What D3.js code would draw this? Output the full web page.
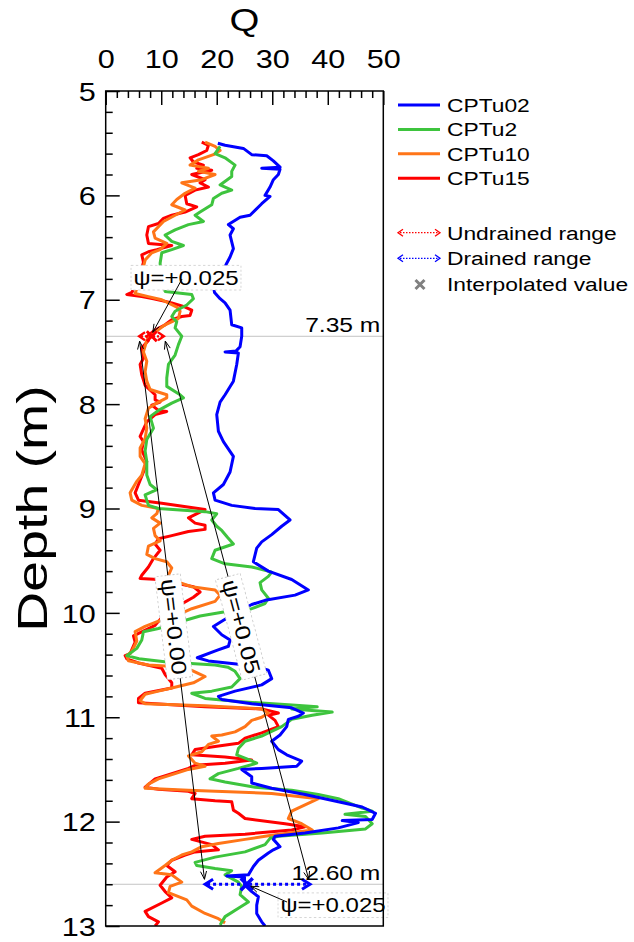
<!DOCTYPE html>
<html>
<head>
<meta charset="utf-8">
<script src="https://cdn.jsdelivr.net/npm/d3@7"></script>
<style>
  html, body { margin: 0; padding: 0; background: #fff; }
  svg { display: block; font-family: "Liberation Sans", Arial, sans-serif; }
</style>
</head>
<body>
<svg id="chart" width="634" height="942"></svg>
<script>
// Normalised cone resistance Q against depth (m), one profile per sounding: [depth, Q]
const cptu02 = [[5.50,20.2],[5.52,21.5],[5.55,24.8],[5.61,26.3],[5.62,29.0],[5.67,30.2],[5.73,31.4],[5.74,28.1],[5.75,31.4],[5.80,31.1],[5.85,30.2],[5.92,29.6],[6.00,28.7],[6.01,29.6],[6.08,28.1],[6.19,26.0],[6.21,24.2],[6.28,22.1],[6.32,23.0],[6.38,22.4],[6.51,23.0],[6.59,22.4],[6.65,21.8],[6.78,20.6],[6.87,19.4],[6.93,19.6],[6.99,20.6],[7.03,21.5],[7.10,22.4],[7.24,22.7],[7.27,24.5],[7.35,24.5],[7.45,24.2],[7.49,23.5],[7.50,21.5],[7.51,23.9],[7.62,23.6],[7.78,23.0],[7.91,21.5],[7.98,20.6],[8.10,20.0],[8.26,20.3],[8.36,21.2],[8.50,23.0],[8.65,22.4],[8.77,21.2],[8.85,19.4],[8.92,19.7],[8.97,22.7],[9.00,26.9],[9.01,31.1],[9.11,33.2],[9.17,31.7],[9.25,29.9],[9.32,28.1],[9.38,27.2],[9.51,26.6],[9.60,29.3],[9.68,33.5],[9.78,36.5],[9.83,34.1],[9.88,28.7],[9.92,26.3],[10.00,23.5],[10.07,21.2],[10.13,19.4],[10.21,20.9],[10.26,22.4],[10.32,22.1],[10.36,20.0],[10.43,16.5],[10.46,18.5],[10.51,26.9],[10.55,29.3],[10.63,29.9],[10.69,28.1],[10.75,23.3],[10.80,20.3],[10.83,20.9],[10.87,26.3],[10.91,33.5],[10.96,35.6],[10.99,34.7],[11.02,32.9],[11.09,32.6],[11.17,31.4],[11.23,29.9],[11.31,31.1],[11.36,32.6],[11.42,35.3],[11.47,34.4],[11.49,28.1],[11.50,24.5],[11.57,26.3],[11.63,26.3],[11.68,29.9],[11.74,35.9],[11.81,41.9],[11.86,46.2],[11.92,48.6],[11.98,48.0],[11.99,42.6],[12.01,45.5],[12.06,41.9],[12.11,35.9],[12.14,30.5],[12.17,30.2],[12.24,31.4],[12.27,30.2],[12.30,29.3],[12.37,27.5],[12.43,26.6],[12.51,25.7],[12.52,21.8],[12.53,25.0],[12.56,25.0],[12.62,25.3],[12.67,26.3],[12.72,27.5],[12.80,27.2],[12.88,27.2],[12.96,28.1],[13.00,28.7]];

const cptu2 = [[5.53,20.6],[5.60,19.7],[5.64,21.5],[5.71,23.3],[5.77,22.7],[5.82,22.7],[5.90,20.6],[5.95,22.7],[5.98,20.9],[6.03,19.4],[6.09,19.1],[6.16,17.0],[6.19,16.1],[6.25,17.6],[6.28,14.9],[6.33,12.5],[6.38,10.7],[6.44,11.9],[6.48,14.0],[6.52,11.9],[6.55,10.1],[6.65,9.8],[6.80,10.0],[6.92,10.7],[6.95,15.5],[6.99,15.8],[7.05,14.6],[7.11,12.5],[7.16,11.9],[7.21,12.8],[7.27,12.5],[7.35,13.7],[7.43,13.1],[7.53,12.5],[7.62,11.3],[7.75,11.0],[7.83,11.0],[7.91,13.4],[7.94,14.0],[7.99,11.9],[8.06,9.5],[8.12,8.0],[8.23,8.6],[8.34,7.4],[8.45,7.1],[8.55,7.4],[8.68,7.4],[8.77,8.0],[8.82,9.2],[8.87,7.1],[8.97,7.7],[9.00,9.5],[9.03,17.9],[9.05,20.0],[9.11,19.1],[9.17,20.0],[9.21,20.9],[9.28,22.0],[9.34,23.0],[9.40,19.7],[9.48,19.1],[9.53,21.5],[9.56,26.3],[9.61,29.9],[9.65,29.3],[9.71,27.8],[9.78,28.1],[9.86,29.3],[9.91,28.7],[9.96,26.3],[9.99,21.5],[10.03,17.0],[10.10,12.5],[10.15,9.5],[10.18,6.8],[10.26,6.5],[10.34,5.6],[10.41,3.8],[10.44,6.0],[10.47,11.0],[10.50,19.7],[10.52,22.0],[10.56,23.3],[10.63,24.2],[10.71,22.7],[10.75,19.1],[10.77,15.5],[10.82,17.9],[10.85,23.9],[10.88,32.9],[10.90,38.1],[10.92,33.5],[10.95,40.8],[10.98,37.2],[11.02,33.5],[11.09,31.7],[11.15,29.3],[11.18,28.1],[11.23,25.1],[11.30,23.9],[11.36,23.6],[11.41,26.0],[11.44,27.2],[11.49,23.9],[11.54,20.3],[11.59,18.8],[11.62,21.5],[11.67,26.9],[11.70,33.5],[11.74,38.3],[11.78,41.9],[11.87,46.2],[11.90,48.0],[11.93,43.1],[11.95,46.8],[12.02,48.0],[12.07,46.8],[12.11,39.0],[12.14,31.1],[12.16,29.6],[12.22,28.7],[12.29,25.1],[12.34,19.7],[12.39,16.1],[12.42,16.4],[12.45,19.7],[12.47,22.7],[12.51,21.5],[12.58,23.9],[12.62,24.5],[12.70,24.2],[12.77,25.7],[12.83,23.9],[12.91,21.5],[12.99,20.6]];

const cptu10 = [[5.49,17.9],[5.53,19.7],[5.57,20.6],[5.61,19.4],[5.66,16.7],[5.71,15.2],[5.74,18.5],[5.77,16.7],[5.80,19.7],[5.85,17.3],[5.88,13.7],[5.93,16.1],[5.98,14.3],[6.04,12.8],[6.09,11.9],[6.14,14.3],[6.19,12.5],[6.25,10.4],[6.35,8.6],[6.41,8.9],[6.46,11.0],[6.52,9.8],[6.55,8.3],[6.62,7.1],[6.75,6.5],[6.94,5.3],[6.97,7.7],[7.00,10.1],[7.07,12.8],[7.11,13.4],[7.18,13.1],[7.24,10.7],[7.31,8.9],[7.39,7.4],[7.50,6.8],[7.59,7.4],[7.69,7.1],[7.78,7.4],[7.86,8.0],[7.91,11.0],[7.94,11.0],[7.98,9.5],[8.04,7.7],[8.14,7.1],[8.23,7.4],[8.33,7.1],[8.42,6.2],[8.50,6.2],[8.57,7.1],[8.68,6.5],[8.74,5.6],[8.85,4.4],[8.92,4.7],[8.97,6.5],[9.00,9.5],[9.05,9.2],[9.09,8.3],[9.14,9.8],[9.19,8.6],[9.26,8.9],[9.31,9.8],[9.36,7.7],[9.44,7.4],[9.48,8.9],[9.51,11.0],[9.57,11.9],[9.64,11.3],[9.70,12.8],[9.75,15.5],[9.78,19.7],[9.83,20.6],[9.89,19.7],[9.96,15.5],[10.03,12.5],[10.08,9.5],[10.13,7.1],[10.18,5.3],[10.27,5.6],[10.37,4.7],[10.41,3.8],[10.46,4.1],[10.50,7.7],[10.51,10.7],[10.55,15.5],[10.61,17.9],[10.67,15.8],[10.72,11.9],[10.75,9.5],[10.78,7.1],[10.84,6.2],[10.87,7.1],[10.89,17.9],[10.92,28.1],[10.96,29.3],[11.00,28.1],[11.03,26.3],[11.09,25.1],[11.14,23.3],[11.17,20.9],[11.18,19.1],[11.23,20.3],[11.26,18.5],[11.33,17.3],[11.37,14.9],[11.44,16.1],[11.47,17.9],[11.50,14.9],[11.54,12.5],[11.59,9.5],[11.64,7.7],[11.68,7.1],[11.70,14.9],[11.73,29.9],[11.78,38.3],[11.84,35.9],[11.90,33.5],[11.97,32.9],[12.02,35.3],[12.08,37.2],[12.13,29.9],[12.17,25.1],[12.21,20.3],[12.24,17.3],[12.29,15.5],[12.32,13.7],[12.37,11.9],[12.42,10.7],[12.49,8.9],[12.51,11.9],[12.58,13.7],[12.62,11.6],[12.68,11.3],[12.75,14.6],[12.81,15.5],[12.88,17.9],[12.93,20.3],[12.97,21.5]];

const cptu15 = [[5.49,17.3],[5.52,18.5],[5.57,18.2],[5.61,16.7],[5.64,15.2],[5.68,15.8],[5.71,17.6],[5.74,16.4],[5.76,19.1],[5.80,15.5],[5.85,17.9],[5.88,17.0],[5.92,18.5],[5.95,16.1],[6.00,14.3],[6.08,14.6],[6.11,16.4],[6.16,14.3],[6.19,11.9],[6.22,10.4],[6.27,9.5],[6.30,7.7],[6.38,7.4],[6.46,7.7],[6.48,11.9],[6.52,9.2],[6.54,7.7],[6.57,6.5],[6.64,6.8],[6.80,6.0],[6.93,4.7],[6.95,3.8],[6.97,6.5],[6.99,8.6],[7.03,11.9],[7.07,14.3],[7.10,15.5],[7.15,15.2],[7.16,13.7],[7.19,11.9],[7.24,10.7],[7.29,8.9],[7.35,7.5],[7.39,7.7],[7.46,6.5],[7.56,6.8],[7.62,6.2],[7.72,6.5],[7.82,7.1],[7.91,8.9],[7.96,8.9],[7.98,9.8],[8.01,8.3],[8.06,9.5],[8.07,11.0],[8.10,8.9],[8.17,7.4],[8.31,6.2],[8.36,6.8],[8.44,6.5],[8.55,7.4],[8.65,6.8],[8.77,5.9],[8.85,5.3],[8.92,5.9],[8.95,10.1],[9.01,17.9],[9.09,14.9],[9.14,16.1],[9.16,17.9],[9.20,17.9],[9.22,14.9],[9.26,11.9],[9.29,9.5],[9.34,8.9],[9.40,9.8],[9.48,8.6],[9.56,7.7],[9.64,6.5],[9.67,6.2],[9.68,9.5],[9.72,13.0],[9.75,15.8],[9.80,17.0],[9.85,15.8],[9.95,12.5],[10.05,10.0],[10.12,8.9],[10.22,5.0],[10.28,5.3],[10.39,4.4],[10.41,3.5],[10.44,3.8],[10.48,5.9],[10.53,10.1],[10.59,10.7],[10.67,11.9],[10.72,11.9],[10.75,8.9],[10.77,7.1],[10.82,5.9],[10.86,5.9],[10.90,17.9],[10.92,28.1],[10.96,31.1],[10.98,29.3],[11.03,30.5],[11.09,31.1],[11.15,28.1],[11.20,25.1],[11.25,23.9],[11.28,19.7],[11.31,16.1],[11.36,15.5],[11.38,21.5],[11.41,26.3],[11.44,21.5],[11.46,16.1],[11.49,14.9],[11.54,11.9],[11.59,8.9],[11.67,7.1],[11.69,9.5],[11.71,14.9],[11.73,16.1],[11.78,15.5],[11.80,19.7],[11.81,22.7],[11.89,23.0],[11.92,23.9],[11.97,25.1],[12.02,32.3],[12.05,35.9],[12.08,33.5],[12.12,25.1],[12.14,17.9],[12.17,15.5],[12.22,19.1],[12.27,20.3],[12.29,16.1],[12.32,14.3],[12.37,11.9],[12.42,11.0],[12.48,12.5],[12.53,11.0],[12.61,9.8],[12.67,10.7],[12.73,11.9],[12.78,10.1],[12.86,7.1],[12.91,7.7],[12.96,9.5],[13.00,8.9]];

const seriesNames  = ["CPTu02", "CPTu2", "CPTu10", "CPTu15"];
const seriesData   = [cptu02, cptu2, cptu10, cptu15];
const seriesColors = ["#0000ff", "#3ec43e", "#ff7518", "#ff0000"];

const qTicks     = [0, 10, 20, 30, 40, 50];
const depthTicks = [5, 6, 7, 8, 9, 10, 11, 12, 13];

// Reference depths with their Q ranges (undrained above, drained below)
const refDepths      = [7.35, 12.60];
const refDepthLabels = ["7.35 m", "12.60 m"];
const undrainedQ     = [6.0, 10.5];   // psi = +0.00 .. +0.05 at 7.35 m
const drainedQ       = [17.9, 36.8];  // psi = +0.00 .. +0.05 at 12.60 m
const interpQ        = [8.3, 25.4];   // psi = +0.025 at 7.35 m and 12.60 m
const psiLineLabels  = ["ψ=+0.00", "ψ=+0.05"];
const psiMidLabel    = "ψ=+0.025";

const legendExtra = ["Undrained range", "Drained range", "Interpolated value"];

// ---------------------------------------------------------------------------
const SX = 1.2;               // horizontal text stretch of the figure font
const FONT = '"Liberation Sans", Arial, sans-serif';
const svg = d3.select("#chart");
svg.append("rect").attr("width", 634).attr("height", 942).attr("fill", "#fff");

const plot = { left: 105.7, right: 383.3, top: 91, bottom: 926 };
const x = d3.scaleLinear().domain([0, 50]).range([plot.left, plot.right]);
const y = d3.scaleLinear().domain([5, 13]).range([plot.top, plot.bottom]);

function stext(parent, px, py, str, size, anchor, rot = 0, sx = SX) {
  return parent.append("text")
    .attr("transform", `translate(${px},${py}) rotate(${rot}) scale(${sx},1)`)
    .attr("text-anchor", anchor)
    .attr("font-family", FONT)
    .attr("font-size", size)
    .attr("fill", "#000")
    .text(str);
}

function chevron(g, tip, dir, len, half, color, width) {
  const [ux, uy] = dir;            // unit vector pointing toward the tip
  const bx = tip[0] - ux * len, by = tip[1] - uy * len;
  const nx = -uy, ny = ux;
  g.append("path")
    .attr("d", `M${bx + nx * half},${by + ny * half}L${tip[0]},${tip[1]}L${bx - nx * half},${by - ny * half}`)
    .attr("fill", "none").attr("stroke", color).attr("stroke-width", width)
    .attr("stroke-linejoin", "miter").attr("stroke-linecap", "butt");
}

function rangeArrow(g, x1, x2, yy, color, width, dash, len, half) {
  g.append("line").attr("x1", x1 + 2).attr("x2", x2 - 2).attr("y1", yy).attr("y2", yy)
    .attr("stroke", color).attr("stroke-width", width).attr("stroke-dasharray", dash);
  chevron(g, [x1, yy], [-1, 0], len, half, color, width);
  chevron(g, [x2, yy], [1, 0], len, half, color, width);
}

function cross(g, cx, cy, r, color, width) {
  g.append("path")
    .attr("d", `M${cx - r},${cy - r}L${cx + r},${cy + r}M${cx - r},${cy + r}L${cx + r},${cy - r}`)
    .attr("stroke", color).attr("stroke-width", width).attr("fill", "none");
}

// --- reference depth lines --------------------------------------------------
const refG = svg.append("g");
refDepths.forEach(d => {
  refG.append("line").attr("x1", plot.left).attr("x2", plot.right)
    .attr("y1", y(d)).attr("y2", y(d))
    .attr("stroke", "#c4c4c4").attr("stroke-width", 1);
});

// --- profiles ----------------------------------------------------------------
svg.append("clipPath").attr("id", "clip").append("rect")
  .attr("x", plot.left).attr("y", plot.top)
  .attr("width", plot.right - plot.left).attr("height", plot.bottom - plot.top);

const line = d3.line().x(d => x(d[1])).y(d => y(d[0]));
const curves = svg.append("g").attr("clip-path", "url(#clip)");
[3, 2, 1, 0].forEach(i => {
  curves.append("path").datum(seriesData[i])
    .attr("d", line)
    .attr("fill", "none")
    .attr("stroke", seriesColors[i])
    .attr("stroke-width", 3)
    .attr("stroke-linejoin", "round");
});

// --- ranges and interpolated points ------------------------------------------
const ann = svg.append("g");
rangeArrow(ann, x(undrainedQ[0]), x(undrainedQ[1]), y(refDepths[0]), "#ff0000", 2.2, "2,2", 6, 4);
rangeArrow(ann, x(drainedQ[0]), x(drainedQ[1]), y(refDepths[1]), "#0000ff", 3, "3,3", 8, 5);
cross(ann, x(interpQ[0]), y(refDepths[0]), 5, "#ff0000", 3);
cross(ann, x(interpQ[1]), y(refDepths[1]), 6, "#0000ff", 3.5);

refDepthLabels.forEach((lab, i) => {
  stext(ann, plot.right - 3, y(refDepths[i]) - 4.5, lab, 20.5, "end");
});

// --- psi connecting lines ----------------------------------------------------
const gap = 5;
[0, 1].forEach(k => {
  const p1 = [x(undrainedQ[k]), y(refDepths[0])];
  const p2 = [x(drainedQ[k]), y(refDepths[1])];
  const dx = p2[0] - p1[0], dy = p2[1] - p1[1];
  const L = Math.hypot(dx, dy), ux = dx / L, uy = dy / L;
  const a = [p1[0] + ux * gap, p1[1] + uy * gap];
  const b = [p2[0] - ux * gap, p2[1] - uy * gap];
  ann.append("line").attr("x1", a[0]).attr("y1", a[1]).attr("x2", b[0]).attr("y2", b[1])
    .attr("stroke", "#000").attr("stroke-width", 1);
  chevron(ann, a, [-ux, -uy], 8, 3, "#000", 1);
  chevron(ann, b, [ux, uy], 8, 3, "#000", 1);

  // label sitting on the line
  const t = 0.53;
  const cx = p1[0] + dx * t, cy = p1[1] + dy * t;
  const ang = Math.atan2(dy, dx) * 180 / Math.PI;
  const lg = ann.append("g").attr("transform", `translate(${cx},${cy}) rotate(${ang}) scale(${SX},1)`);
  const rect = lg.append("rect");
  const tx = lg.append("text").attr("text-anchor", "middle").attr("y", 7.5)
    .attr("font-family", FONT).attr("font-size", 21).text(psiLineLabels[k]);
  const bb = tx.node().getBBox();
  rect.attr("x", bb.x - 3).attr("y", bb.y - 1).attr("width", bb.width + 6).attr("height", bb.height + 2)
    .attr("fill", "#fff").attr("stroke", "#c8c8c8").attr("stroke-width", 0.8)
    .attr("stroke-dasharray", "2,2");
});

// --- psi = +0.025 call-outs --------------------------------------------------
function callout(cx, cy, from, to) {
  const g = ann.append("g");
  const lg = g.append("g").attr("transform", `translate(${cx},${cy}) scale(${SX},1)`);
  const rect = lg.append("rect");
  const tx = lg.append("text").attr("text-anchor", "middle").attr("y", 7)
    .attr("font-family", FONT).attr("font-size", 20).text(psiMidLabel);
  const bb = tx.node().getBBox();
  rect.attr("x", bb.x - 2).attr("y", bb.y - 1).attr("width", bb.width + 4).attr("height", bb.height + 2)
    .attr("fill", "#fff").attr("stroke", "#d0d0d0").attr("stroke-width", 0.8)
    .attr("stroke-dasharray", "2,2");
  const dx = to[0] - from[0], dy = to[1] - from[1];
  const L = Math.hypot(dx, dy);
  g.append("line").attr("x1", from[0]).attr("y1", from[1]).attr("x2", to[0]).attr("y2", to[1])
    .attr("stroke", "#000").attr("stroke-width", 1);
  chevron(g, to, [dx / L, dy / L], 8, 3, "#000", 1);
}
callout(186, 277.5, [182, 279], [x(interpQ[0]) + 1, y(refDepths[0]) - 4]);
callout(333, 905, [287, 902], [x(interpQ[1]) + 4, y(refDepths[1]) + 2]);

// --- axes --------------------------------------------------------------------
function styleAxis(g) {
  g.select(".domain").remove();
  g.selectAll(".tick line").attr("stroke", "#000").attr("stroke-width", 1.5);
}
const xMinor = d3.range(0, 51, 2).filter(v => v % 10 !== 0);
const yMinor = d3.range(50, 131, 2).map(v => v / 10).filter(v => Math.round(v * 10) % 10 !== 0);

svg.append("g").attr("transform", `translate(0,${plot.top})`)
  .call(d3.axisTop(x).tickValues(xMinor).tickSizeInner(-7).tickSizeOuter(0).tickFormat(""))
  .call(styleAxis);
svg.append("g").attr("transform", `translate(${plot.left},0)`)
  .call(d3.axisLeft(y).tickValues(yMinor).tickSizeInner(-7).tickSizeOuter(0).tickFormat(""))
  .call(styleAxis);

const gx = svg.append("g").attr("transform", `translate(0,${plot.top})`)
  .call(d3.axisTop(x).tickValues(qTicks).tickSizeInner(-14).tickSizeOuter(0).tickPadding(23))
  .call(styleAxis);
gx.selectAll("text").attr("font-family", FONT).attr("font-size", 25.5).attr("fill", "#000")
  .attr("transform", `scale(${SX},1)`);

const gy = svg.append("g").attr("transform", `translate(${plot.left},0)`)
  .call(d3.axisLeft(y).tickValues(depthTicks).tickSizeInner(-14).tickSizeOuter(0).tickPadding(10))
  .call(styleAxis);
gy.selectAll("text").attr("font-family", FONT).attr("font-size", 25.5).attr("fill", "#000")
  .attr("x", 0).attr("dy", "0.36em")
  .attr("transform", `translate(-10,0) scale(${SX},1)`);

// frame
svg.append("rect").attr("x", plot.left).attr("y", plot.top)
  .attr("width", plot.right - plot.left).attr("height", plot.bottom - plot.top)
  .attr("fill", "none").attr("stroke", "#000").attr("stroke-width", 1.5);

// titles
stext(svg, (plot.left + plot.right) / 2, 31, "Q", 32, "middle");
stext(svg, 47, (plot.top + plot.bottom) / 2, "Depth (m)", 42, "middle", -90, 1.32);

// --- legend ------------------------------------------------------------------
const leg = svg.append("g");
const legX1 = 398, legX2 = 440, legTX = 447;
seriesNames.forEach((name, i) => {
  const ly = 105 + i * 24.4;
  leg.append("line").attr("x1", legX1).attr("x2", legX2).attr("y1", ly).attr("y2", ly)
    .attr("stroke", seriesColors[i]).attr("stroke-width", 3);
  stext(leg, legTX, ly + 6.8, name, 19, "start");
});
rangeArrow(leg, legX1, legX2, 232.7, "#ff0000", 1.3, "1.5,1.5", 5, 3.5);
stext(leg, legTX, 232.7 + 6.8, legendExtra[0], 19, "start");
rangeArrow(leg, legX1, legX2, 258.3, "#0000ff", 1.3, "1.5,1.5", 5, 3.5);
stext(leg, legTX, 258.3 + 6.8, legendExtra[1], 19, "start");
cross(leg, 420, 284.5, 4.5, "#808080", 3);
stext(leg, legTX, 284.5 + 6.8, legendExtra[2], 19, "start");
</script>
</body>
</html>
